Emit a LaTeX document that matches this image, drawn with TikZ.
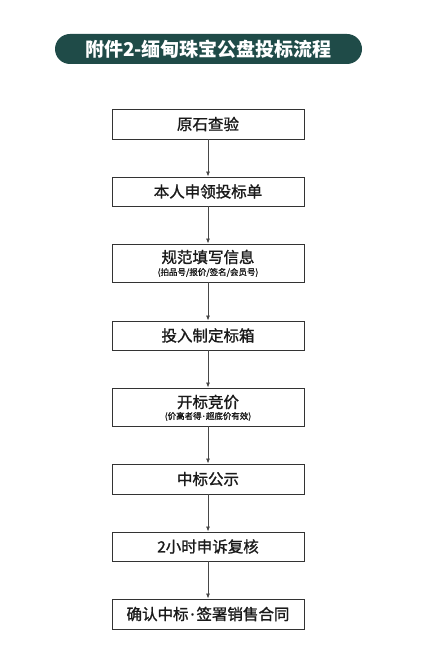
\documentclass[tikz,border=0pt]{standalone}
\usepackage{fontspec}
\setmainfont{Noto Sans CJK SC}
\newfontfamily\cjk{Noto Sans CJK SC}
\newfontfamily\cjkm[FakeBold=1.3]{Noto Sans CJK SC}
\newfontfamily\latn[FakeBold=1.3]{Noto Sans}
\newcommand{\mdot}{\hspace{0.12em}{\latn ·}\hspace{0.12em}}
\usetikzlibrary{arrows.meta}
\definecolor{titlebg}{HTML}{1F4B48}
\definecolor{boxline}{HTML}{333333}
\definecolor{txt}{HTML}{1A1A1A}
\tikzset{
  stepbox/.style={draw=boxline, line width=0.9pt, minimum width=192pt, inner sep=0pt, align=center, text=txt},
  conn/.style={draw=boxline!90, line width=0.8pt, -{Latex[length=5pt,width=4pt]}},
  maintext/.style={font=\cjkm\fontsize{15.5}{17}\selectfont},
  subtext/.style={font=\cjkm\fontsize{8.5}{10}\selectfont}
}
\begin{document}
\begin{tikzpicture}[x=1pt,y=-1pt]
\useasboundingbox (0,0) rectangle (429,663);
\fill[white] (0,0) rectangle (429,663);
\node[fill=titlebg, rounded corners=15pt, minimum width=307pt, minimum height=30pt, inner sep=0pt, text=white, font=\cjk\bfseries\fontsize{19}{21}\selectfont] (title) at (208.5,49) {附件2-缅甸珠宝公盘投标流程};

\node[stepbox, minimum height=30pt, maintext] (b1) at (208,124) {原石查验};
\node[stepbox, minimum height=29pt, maintext] (b2) at (208,191.5) {本人申领投标单};
\node[stepbox, minimum height=38pt] (b3) at (208,263) {};
\node[maintext, text=txt] (b3a) at (208,257) {规范填写信息};
\node[subtext, text=txt] (b3b) at (208,272.5) {(拍品号/报价/签名/会员号)};
\node[stepbox, minimum height=29pt, maintext] (b4) at (208,335.5) {投入制定标箱};
\node[stepbox, minimum height=38pt] (b5) at (208,407) {};
\node[maintext, text=txt] (b5a) at (208,402) {开标竞价};
\node[subtext, text=txt] (b5b) at (208,416.5) {(价高者得\mdot 超底价有效)};
\node[stepbox, minimum height=30pt, maintext] (b6) at (208,479) {中标公示};
\node[stepbox, minimum height=29pt, maintext] (b7) at (208,546.5) {2小时申诉复核};
\node[stepbox, minimum height=30pt, maintext] (b8) at (208,614) {确认中标\mdot 签署销售合同};

\draw[conn] (b1.south) -- (b2.north);
\draw[conn] (b2.south) -- (b3.north);
\draw[conn] (b3.south) -- (b4.north);
\draw[conn] (b4.south) -- (b5.north);
\draw[conn] (b5.south) -- (b6.north);
\draw[conn] (b6.south) -- (b7.north);
\draw[conn] (b7.south) -- (b8.north);
\end{tikzpicture}
\end{document}
